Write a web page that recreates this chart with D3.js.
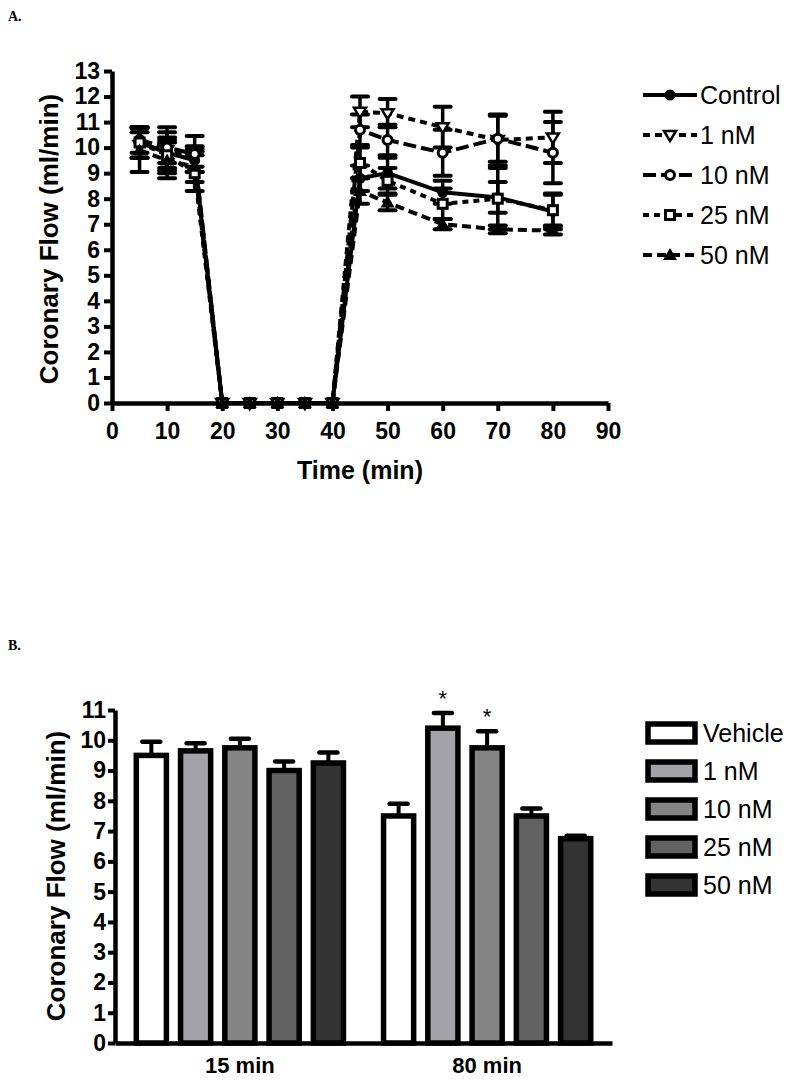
<!DOCTYPE html>
<html>
<head>
<meta charset="utf-8">
<script src="https://cdn.jsdelivr.net/npm/d3@7"></script>
<style>
  html, body { margin: 0; padding: 0; background: #fff; }
  svg { display: block; }
  text { font-family: Arial, "Liberation Sans", sans-serif; fill: #000; }
</style>
</head>
<body>
<svg id="chart" width="800" height="1082"></svg>
<script>
// ---------------- Panel A data ----------------
const timePoints = [5, 10, 15, 20, 25, 30, 35, 40, 45, 50, 60, 70, 80];
const seriesNamesA = ["Control", "1 nM", "10 nM", "25 nM", "50 nM"];
const controlVals = [10.2, 9.8, 9.5, 0, 0, 0, 0, 0, 8.8, 9.0, 8.25, 8.05, 7.5];
const nM1Vals     = [10.1, 9.9, 9.65, 0, 0, 0, 0, 0, 11.4, 11.35, 10.8, 10.3, 10.4];
const nM10Vals    = [10.3, 10.0, 9.75, 0, 0, 0, 0, 0, 10.7, 10.3, 9.8, 10.35, 9.8];
const nM25Vals    = [10.2, 9.7, 9.0, 0, 0, 0, 0, 0, 9.4, 8.7, 7.8, 8.0, 7.55];
const nM50Vals    = [9.9, 9.5, 9.25, 0, 0, 0, 0, 0, 8.3, 7.85, 7.0, 6.8, 6.75];
const controlErr  = [0.6, 0.8, 0.45, 0, 0, 0, 0, 0, 0.5, 0.6, 0.45, 0.6, 0.7];
const nM1Err      = [0.5, 0.5, 0.4, 0, 0, 0, 0, 0, 0.6, 0.55, 0.8, 1.0, 1.0];
const nM10Err     = [0.5, 0.8, 0.7, 0, 0, 0, 0, 0, 0.6, 0.6, 0.9, 0.9, 1.2];
const nM25Err     = [0.6, 0.6, 0.7, 0, 0, 0, 0, 0, 0.6, 0.5, 0.6, 1.2, 0.6];
const nM50Err     = [0.85, 0.7, 0.6, 0, 0, 0, 0, 0, 0.5, 0.3, 0.2, 0.15, 0.15];
const xTicksA = [0, 10, 20, 30, 40, 50, 60, 70, 80, 90];
const yTicksA = [0, 1, 2, 3, 4, 5, 6, 7, 8, 9, 10, 11, 12, 13];

// ---------------- Panel B data ----------------
const groupsB = ["15 min", "80 min"];
const seriesNamesB = ["Vehicle", "1 nM", "10 nM", "25 nM", "50 nM"];
const vals15 = [9.5, 9.65, 9.75, 9.0, 9.25];
const err15  = [0.45, 0.25, 0.3, 0.3, 0.35];
const vals80 = [7.5, 10.4, 9.75, 7.5, 6.75];
const err80  = [0.4, 0.5, 0.55, 0.25, 0.1];
const star80 = [false, true, true, false, false];
const yTicksB = [0, 1, 2, 3, 4, 5, 6, 7, 8, 9, 10, 11];

const svg = d3.select("#chart");

// panel letters
svg.append("text").attr("x", 8).attr("y", 21).text("A.")
  .style("font-family", "'Liberation Serif', 'Times New Roman', serif")
  .style("font-weight", "bold").style("font-size", "14px");
svg.append("text").attr("x", 8).attr("y", 650).text("B.")
  .style("font-family", "'Liberation Serif', 'Times New Roman', serif")
  .style("font-weight", "bold").style("font-size", "14px");

// ================= Panel A =================
const xA = d3.scaleLinear().domain([0, 90]).range([112, 608]);
const yA = d3.scaleLinear().domain([0, 13]).range([403, 71]);

const stylesA = [
  { dash: null, marker: "circleFilled" },
  { dash: "7,5", marker: "triDownOpen" },
  { dash: "13,5", marker: "circleOpen" },
  { dash: "6,5", marker: "squareOpen" },
  { dash: "9,5", marker: "triUpFilled" }
];
const valsA = [controlVals, nM1Vals, nM10Vals, nM25Vals, nM50Vals];
const errsA = [controlErr, nM1Err, nM10Err, nM25Err, nM50Err];

const seriesA = seriesNamesA.map((name, i) => ({
  name, style: stylesA[i],
  pts: timePoints.map((t, j) => ({ t, v: valsA[i][j], e: errsA[i][j] }))
}));

function drawMarker(g, type, x, y) {
  const sw = 3;
  if (type === "circleFilled") {
    g.append("circle").attr("cx", x).attr("cy", y).attr("r", 5.5).attr("fill", "#000");
  } else if (type === "circleOpen") {
    g.append("circle").attr("cx", x).attr("cy", y).attr("r", 4.5)
      .attr("fill", "#fff").attr("stroke", "#000").attr("stroke-width", sw);
  } else if (type === "squareOpen") {
    g.append("rect").attr("x", x - 4.5).attr("y", y - 4.5).attr("width", 9).attr("height", 9)
      .attr("fill", "#fff").attr("stroke", "#000").attr("stroke-width", sw);
  } else if (type === "triDownOpen") {
    g.append("path").attr("d", `M${x - 6},${y - 4} L${x + 6},${y - 4} L${x},${y + 6} Z`)
      .attr("fill", "#fff").attr("stroke", "#000").attr("stroke-width", 2.5);
  } else if (type === "triUpFilled") {
    g.append("path").attr("d", `M${x - 7},${y + 5} L${x + 7},${y + 5} L${x},${y - 7} Z`)
      .attr("fill", "#000");
  }
}

const gA = svg.append("g");

// error bars
seriesA.forEach(s => {
  s.pts.filter(p => p.e > 0).forEach(p => {
    const x = xA(p.t);
    gA.append("line").attr("x1", x).attr("x2", x).attr("y1", yA(p.v + p.e)).attr("y2", yA(p.v - p.e))
      .attr("stroke", "#000").attr("stroke-width", 3.5);
    [p.v + p.e, p.v - p.e].forEach(v => {
      gA.append("line").attr("x1", x - 8).attr("x2", x + 8).attr("y1", yA(v)).attr("y2", yA(v))
        .attr("stroke", "#000").attr("stroke-width", 4).attr("stroke-linecap", "round");
    });
  });
});

// lines
const lineA = d3.line().x(p => xA(p.t)).y(p => yA(p.v));
seriesA.forEach(s => {
  gA.append("path").datum(s.pts).attr("d", lineA)
    .attr("fill", "none").attr("stroke", "#000").attr("stroke-width", 4)
    .attr("stroke-dasharray", s.style.dash);
});

// axes A
const yAxisA = d3.axisLeft(yA).tickValues(yTicksA).tickSize(8).tickPadding(4).tickSizeOuter(0);
const xAxisA = d3.axisBottom(xA).tickValues(xTicksA).tickSize(8).tickPadding(12).tickSizeOuter(0);
const gyA = svg.append("g").attr("transform", "translate(112,0)").call(yAxisA);
const gxA = svg.append("g").attr("transform", "translate(0,403)").call(xAxisA);
[gyA, gxA].forEach(g => {
  g.select(".domain").attr("stroke", "#000").attr("stroke-width", 4.5);
  g.selectAll(".tick line").attr("stroke", "#000").attr("stroke-width", 4);
  g.selectAll(".tick text").style("font-size", "23px").style("font-weight", "bold")
    .style("font-family", "Arial, 'Liberation Sans', sans-serif");
});

// markers on top
seriesA.forEach(s => {
  s.pts.forEach(p => drawMarker(gA, s.style.marker, xA(p.t), yA(p.v)));
});

// axis titles A
svg.append("text").attr("transform", "translate(49,239) rotate(-90)").attr("dy", "0.35em")
  .attr("text-anchor", "middle").style("font-size", "26px").style("font-weight", "bold")
  .text("Coronary Flow (ml/min)");
svg.append("text").attr("x", 360).attr("y", 479).attr("text-anchor", "middle")
  .style("font-size", "25px").style("font-weight", "bold").text("Time (min)");

// legend A
const legA = svg.append("g");
seriesA.forEach((s, i) => {
  const y = 95 + i * 40;
  legA.append("line").attr("x1", 643).attr("x2", 697).attr("y1", y).attr("y2", y)
    .attr("stroke", "#000").attr("stroke-width", 4).attr("stroke-dasharray", s.style.dash);
  drawMarker(legA, s.style.marker, 670, y);
  legA.append("text").attr("x", 700).attr("y", y).attr("dy", "0.36em")
    .style("font-size", "25px").text(s.name);
});

// ================= Panel B =================
const xB = d3.scaleBand().domain(groupsB).range([115, 612]).paddingInner(0.13).paddingOuter(0.07);
const xSub = d3.scaleBand().domain(seriesNamesB).range([0, xB.bandwidth()]).paddingInner(0.32).paddingOuter(0.09);
const yB = d3.scaleLinear().domain([0, 11]).range([1043, 710]);
const fillsB = ["#ffffff", "#a2a2a8", "#848484", "#626262", "#333333"];

const dataB = [
  { group: groupsB[0], vals: vals15, errs: err15, stars: [false, false, false, false, false] },
  { group: groupsB[1], vals: vals80, errs: err80, stars: star80 }
];

const gB = svg.append("g");
dataB.forEach(d => {
  seriesNamesB.forEach((name, i) => {
    const x0 = xB(d.group) + xSub(name);
    const w = xSub.bandwidth();
    const xc = x0 + w / 2;
    const v = d.vals[i], e = d.errs[i];
    gB.append("line").attr("x1", xc).attr("x2", xc).attr("y1", yB(v)).attr("y2", yB(v + e))
      .attr("stroke", "#000").attr("stroke-width", 4);
    gB.append("line").attr("x1", xc - 9).attr("x2", xc + 9).attr("y1", yB(v + e)).attr("y2", yB(v + e))
      .attr("stroke", "#000").attr("stroke-width", 4.5).attr("stroke-linecap", "round");
    gB.append("rect").attr("x", x0).attr("y", yB(v)).attr("width", w).attr("height", yB(0) - yB(v))
      .attr("fill", fillsB[i]).attr("stroke", "#000").attr("stroke-width", 5.5);
    if (d.stars[i]) {
      gB.append("text").attr("x", xc).attr("y", yB(v + e) - 7).attr("text-anchor", "middle")
        .style("font-size", "22px").text("*");
    }
  });
});

const yAxisB = d3.axisLeft(yB).tickValues(yTicksB).tickSize(7).tickPadding(2).tickSizeOuter(0);
const gyB = svg.append("g").attr("transform", "translate(115,0)").call(yAxisB);
gyB.select(".domain").attr("stroke", "#000").attr("stroke-width", 4.5);
gyB.selectAll(".tick line").attr("stroke", "#000").attr("stroke-width", 4);
gyB.selectAll(".tick text").style("font-size", "23px").style("font-weight", "bold")
  .style("font-family", "Arial, 'Liberation Sans', sans-serif");

const xAxisB = d3.axisBottom(xB).tickSize(0).tickPadding(14).tickSizeOuter(0);
const gxB = svg.append("g").attr("transform", "translate(0,1043)").call(xAxisB);
gxB.select(".domain").attr("stroke", "#000").attr("stroke-width", 4.5);
gxB.selectAll(".tick text").style("font-size", "22px").style("font-weight", "bold")
  .style("font-family", "Arial, 'Liberation Sans', sans-serif");

svg.append("text").attr("transform", "translate(56,876) rotate(-90)").attr("dy", "0.35em")
  .attr("text-anchor", "middle").style("font-size", "26px").style("font-weight", "bold")
  .text("Coronary Flow (ml/min)");

// legend B
const legB = svg.append("g");
seriesNamesB.forEach((name, i) => {
  const y = 733 + i * 38;
  legB.append("rect").attr("x", 648).attr("y", y - 9).attr("width", 47).attr("height", 18)
    .attr("fill", fillsB[i]).attr("stroke", "#000").attr("stroke-width", 5.5);
  legB.append("text").attr("x", 703).attr("y", y).attr("dy", "0.36em")
    .style("font-size", "25px").text(name);
});
</script>
</body>
</html>
